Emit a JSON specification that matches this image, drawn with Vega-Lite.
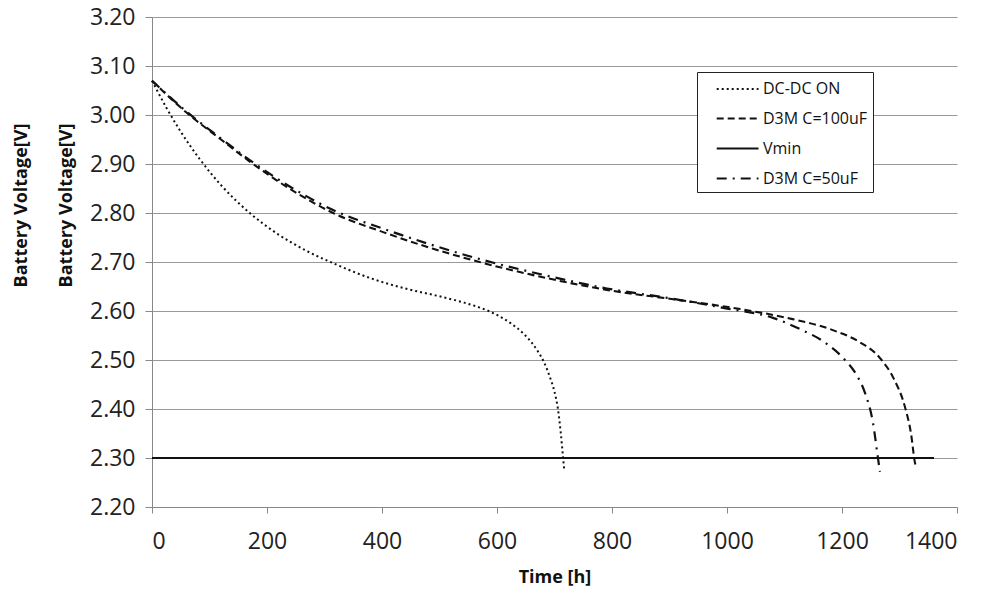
{
  "$schema": "https://vega.github.io/schema/vega-lite/v6.json",
  "width": 805,
  "height": 490,
  "autosize": {"type": "none"},
  "padding": {"left": 152, "top": 17, "right": 31, "bottom": 87},
  "background": "white",
  "config": {
    "font": "Open Sans",
    "view": {"stroke": null},
    "axis": {"labelFont": "Open Sans", "titleFont": "Open Sans", "labelColor": "#222", "titleColor": "#111", "domainColor": "#888", "tickColor": "#888", "gridColor": "#999"}
  },
  "datasets": {
    "curves": [
      {"series": "DC-DC ON", "t": 0, "v": 3.07},
      {"series": "DC-DC ON", "t": 25, "v": 3.015},
      {"series": "DC-DC ON", "t": 50, "v": 2.966},
      {"series": "DC-DC ON", "t": 83, "v": 2.91},
      {"series": "DC-DC ON", "t": 120, "v": 2.857},
      {"series": "DC-DC ON", "t": 170, "v": 2.80},
      {"series": "DC-DC ON", "t": 220, "v": 2.756},
      {"series": "DC-DC ON", "t": 270, "v": 2.722},
      {"series": "DC-DC ON", "t": 320, "v": 2.695},
      {"series": "DC-DC ON", "t": 380, "v": 2.667},
      {"series": "DC-DC ON", "t": 440, "v": 2.646},
      {"series": "DC-DC ON", "t": 500, "v": 2.630},
      {"series": "DC-DC ON", "t": 540, "v": 2.618},
      {"series": "DC-DC ON", "t": 570, "v": 2.607},
      {"series": "DC-DC ON", "t": 600, "v": 2.592},
      {"series": "DC-DC ON", "t": 625, "v": 2.574},
      {"series": "DC-DC ON", "t": 645, "v": 2.555},
      {"series": "DC-DC ON", "t": 660, "v": 2.536},
      {"series": "DC-DC ON", "t": 672, "v": 2.516},
      {"series": "DC-DC ON", "t": 682, "v": 2.495},
      {"series": "DC-DC ON", "t": 692, "v": 2.465},
      {"series": "DC-DC ON", "t": 700, "v": 2.435},
      {"series": "DC-DC ON", "t": 706, "v": 2.40},
      {"series": "DC-DC ON", "t": 711, "v": 2.35},
      {"series": "DC-DC ON", "t": 715, "v": 2.30},
      {"series": "DC-DC ON", "t": 717, "v": 2.275},
      {"series": "D3M C=100uF", "t": 0, "v": 3.07},
      {"series": "D3M C=100uF", "t": 61, "v": 3.004},
      {"series": "D3M C=100uF", "t": 120, "v": 2.95},
      {"series": "D3M C=100uF", "t": 170, "v": 2.905},
      {"series": "D3M C=100uF", "t": 257, "v": 2.837},
      {"series": "D3M C=100uF", "t": 315, "v": 2.80},
      {"series": "D3M C=100uF", "t": 402, "v": 2.761},
      {"series": "D3M C=100uF", "t": 489, "v": 2.727},
      {"series": "D3M C=100uF", "t": 576, "v": 2.698},
      {"series": "D3M C=100uF", "t": 687, "v": 2.667},
      {"series": "D3M C=100uF", "t": 791, "v": 2.643},
      {"series": "D3M C=100uF", "t": 906, "v": 2.624},
      {"series": "D3M C=100uF", "t": 1023, "v": 2.604},
      {"series": "D3M C=100uF", "t": 1100, "v": 2.587},
      {"series": "D3M C=100uF", "t": 1184, "v": 2.561},
      {"series": "D3M C=100uF", "t": 1230, "v": 2.537},
      {"series": "D3M C=100uF", "t": 1266, "v": 2.504},
      {"series": "D3M C=100uF", "t": 1290, "v": 2.462},
      {"series": "D3M C=100uF", "t": 1310, "v": 2.402},
      {"series": "D3M C=100uF", "t": 1320, "v": 2.35},
      {"series": "D3M C=100uF", "t": 1327, "v": 2.29},
      {"series": "D3M C=100uF", "t": 1330, "v": 2.28},
      {"series": "Vmin", "t": 0, "v": 2.30},
      {"series": "Vmin", "t": 1360, "v": 2.30},
      {"series": "D3M C=50uF", "t": 0, "v": 3.07},
      {"series": "D3M C=50uF", "t": 61, "v": 3.006},
      {"series": "D3M C=50uF", "t": 120, "v": 2.952},
      {"series": "D3M C=50uF", "t": 170, "v": 2.908},
      {"series": "D3M C=50uF", "t": 257, "v": 2.842},
      {"series": "D3M C=50uF", "t": 315, "v": 2.806},
      {"series": "D3M C=50uF", "t": 402, "v": 2.768},
      {"series": "D3M C=50uF", "t": 489, "v": 2.734},
      {"series": "D3M C=50uF", "t": 576, "v": 2.704},
      {"series": "D3M C=50uF", "t": 687, "v": 2.672},
      {"series": "D3M C=50uF", "t": 791, "v": 2.646},
      {"series": "D3M C=50uF", "t": 906, "v": 2.625},
      {"series": "D3M C=50uF", "t": 1000, "v": 2.605},
      {"series": "D3M C=50uF", "t": 1080, "v": 2.586},
      {"series": "D3M C=50uF", "t": 1127, "v": 2.563},
      {"series": "D3M C=50uF", "t": 1170, "v": 2.536},
      {"series": "D3M C=50uF", "t": 1202, "v": 2.504},
      {"series": "D3M C=50uF", "t": 1225, "v": 2.47},
      {"series": "D3M C=50uF", "t": 1240, "v": 2.433},
      {"series": "D3M C=50uF", "t": 1254, "v": 2.371},
      {"series": "D3M C=50uF", "t": 1263, "v": 2.296},
      {"series": "D3M C=50uF", "t": 1266, "v": 2.272}
    ]
  },
  "layer": [
    {
      "data": {"name": "curves"},
      "mark": {"type": "line", "color": "#111", "interpolate": "monotone", "clip": false},
      "encoding": {
        "x": {
          "field": "t", "type": "quantitative",
          "scale": {"domain": [0, 1400], "nice": false},
          "axis": {"values": [0, 200, 400, 600, 800, 1000, 1200, 1400], "format": "d", "title": "Time [h]", "titleFontWeight": "bold", "titleFontSize": 18, "titlePadding": 15, "labelFontSize": 23, "labelPadding": 17, "tickSize": 6, "grid": false, "domainColor": "#888"}
        },
        "y": {
          "field": "v", "type": "quantitative",
          "scale": {"domain": [2.2, 3.2], "nice": false, "zero": false},
          "axis": {"values": [2.2, 2.3, 2.4, 2.5, 2.6, 2.7, 2.8, 2.9, 3.0, 3.1, 3.2], "format": ".2f", "title": ["Battery Voltage[V]", "Battery Voltage[V]"], "titleFontWeight": "bold", "titleFontSize": 18, "titleLineHeight": 45, "titleX": -122, "titleY": 188, "titleAngle": -90, "titleAlign": "center", "titleBaseline": "bottom", "labelFontSize": 23, "labelPadding": 10, "tickSize": 7, "grid": true, "gridColor": "#999"}
        },
        "detail": {"field": "series"},
        "strokeDash": {
          "field": "series", "type": "nominal",
          "scale": {"domain": ["DC-DC ON", "D3M C=100uF", "Vmin", "D3M C=50uF"], "range": [[2, 3], [7, 4], [1, 0], [10, 6, 2, 6]]},
          "legend": {"title": null, "orient": "none", "legendX": 545, "legendY": 55, "strokeColor": "#222", "fillColor": "white", "padding": 5, "rowPadding": 9, "symbolType": "M0.2,0H4", "symbolSize": 484, "symbolStrokeWidth": 2.2, "symbolStrokeColor": "#111", "symbolFillColor": "transparent", "labelFont": "Open Sans", "labelFontSize": 16, "labelColor": "#111", "labelOffset": 36, "labelExpr": "datum.label + '\u2007\u2007'", "symbolLimit": 10}
        },
        "strokeWidth": {
          "field": "series", "type": "nominal",
          "scale": {"domain": ["DC-DC ON", "D3M C=100uF", "Vmin", "D3M C=50uF"], "range": [2, 2.2, 3, 2.2]},
          "legend": null
        }
      }
    },
    {
      "mark": {"type": "text", "align": "left", "baseline": "middle", "fontSize": 31, "font": "Open Sans", "color": "#111"},
      "encoding": {"x": {"datum": 23}, "y": {"datum": 3.153}, "text": {"value": "b)"}}
    },
    {
      "mark": {"type": "text", "align": "left", "baseline": "middle", "fontSize": 24, "font": "Open Sans", "color": "#111"},
      "encoding": {"x": {"datum": 170}, "y": {"datum": 3.149}, "text": {"value": "LTC 3536 DC-DC"}}
    }
  ]
}
